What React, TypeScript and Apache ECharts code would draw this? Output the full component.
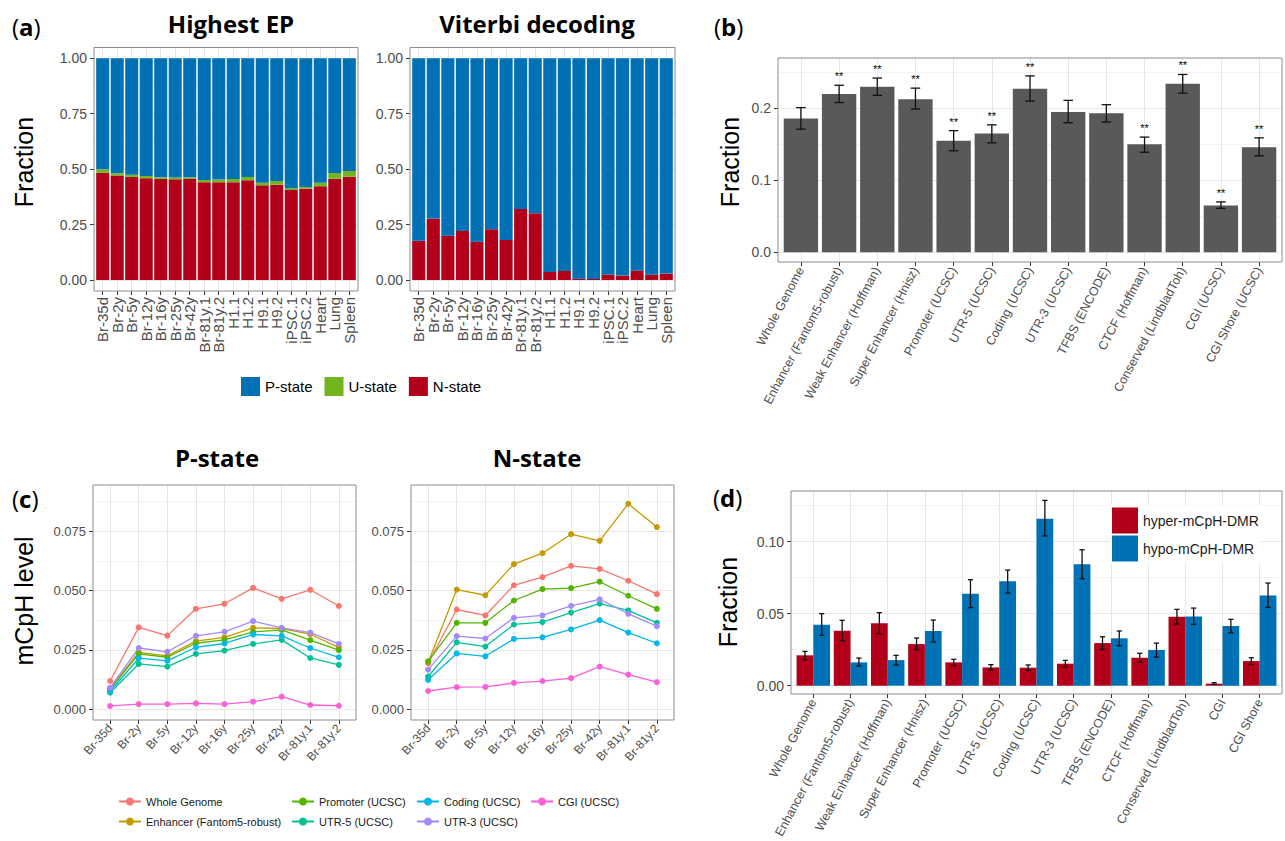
import React, { useEffect, useRef } from "react";
import * as echarts from "echarts";

// ---------------- Panel (a) data ----------------
const samplesA = ["Br-35d", "Br-2y", "Br-5y", "Br-12y", "Br-16y", "Br-25y", "Br-42y", "Br-81y.1", "Br-81y.2", "H1.1", "H1.2", "H9.1", "H9.2", "iPSC.1", "iPSC.2", "Heart", "Lung", "Spleen"];
const epN = [0.484, 0.471, 0.465, 0.459, 0.456, 0.454, 0.456, 0.441, 0.441, 0.441, 0.450, 0.427, 0.430, 0.406, 0.412, 0.423, 0.457, 0.466];
const epU = [0.015, 0.010, 0.010, 0.010, 0.007, 0.008, 0.007, 0.010, 0.012, 0.015, 0.015, 0.012, 0.017, 0.008, 0.008, 0.016, 0.026, 0.026];
const vitN = [0.177, 0.277, 0.200, 0.221, 0.173, 0.229, 0.180, 0.320, 0.301, 0.036, 0.041, 0.006, 0.005, 0.024, 0.020, 0.042, 0.024, 0.029];
const vitU = [0, 0, 0, 0, 0, 0, 0, 0, 0, 0, 0, 0, 0, 0, 0, 0, 0, 0];
const stateNames = ["P-state", "U-state", "N-state"];
const ticksA = ["0.00", "0.25", "0.50", "0.75", "1.00"];

// ---------------- Panel (b) data ----------------
const regionsB = ["Whole Genome", "Enhancer (Fantom5-robust)", "Weak Enhancer (Hoffman)", "Super Enhancer (Hnisz)", "Promoter (UCSC)", "UTR-5 (UCSC)", "Coding (UCSC)", "UTR-3 (UCSC)", "TFBS (ENCODE)", "CTCF (Hoffman)", "Conserved (LindbladToh)", "CGI (UCSC)", "CGI Shore (UCSC)"];
const fracB = [0.186, 0.220, 0.230, 0.2125, 0.155, 0.165, 0.227, 0.195, 0.193, 0.150, 0.234, 0.065, 0.146];
const lowB = [0.171, 0.208, 0.218, 0.199, 0.141, 0.152, 0.210, 0.180, 0.181, 0.139, 0.221, 0.061, 0.134];
const highB = [0.201, 0.232, 0.242, 0.228, 0.169, 0.177, 0.245, 0.211, 0.205, 0.160, 0.247, 0.070, 0.159];
const sigB = ["", "**", "**", "**", "**", "**", "**", "", "", "**", "**", "**", "**"];
const ticksB = ["0.0", "0.1", "0.2"];

// ---------------- Panel (c) data ----------------
const stagesC = ["Br-35d", "Br-2y", "Br-5y", "Br-12y", "Br-16y", "Br-25y", "Br-42y", "Br-81y.1", "Br-81y.2"];
const featuresC = ["Whole Genome", "Enhancer (Fantom5-robust)", "Promoter (UCSC)", "UTR-5 (UCSC)", "Coding (UCSC)", "UTR-3 (UCSC)", "CGI (UCSC)"];
const pWhole = [0.0119, 0.0345, 0.0310, 0.0423, 0.0444, 0.0511, 0.0465, 0.0503, 0.0435];
const pEnh = [0.0087, 0.0240, 0.0225, 0.0287, 0.0303, 0.0343, 0.0340, 0.0316, 0.0261];
const pProm = [0.0084, 0.0233, 0.0219, 0.0278, 0.0292, 0.0326, 0.0334, 0.0291, 0.0249];
const pUtr5 = [0.0070, 0.0191, 0.0180, 0.0233, 0.0247, 0.0275, 0.0292, 0.0216, 0.0187];
const pCod = [0.0076, 0.0215, 0.0204, 0.0261, 0.0277, 0.0315, 0.0309, 0.0258, 0.0219];
const pUtr3 = [0.0091, 0.0258, 0.0242, 0.0309, 0.0326, 0.0371, 0.0343, 0.0323, 0.0275];
const pCgi = [0.0014, 0.0022, 0.0022, 0.0025, 0.0022, 0.0032, 0.0053, 0.0018, 0.0015];
const nWhole = [0.0194, 0.0420, 0.0395, 0.0522, 0.0556, 0.0604, 0.0591, 0.0541, 0.0485];
const nEnh = [0.0197, 0.0504, 0.0480, 0.0611, 0.0657, 0.0737, 0.0709, 0.0865, 0.0767];
const nProm = [0.0202, 0.0364, 0.0364, 0.0458, 0.0506, 0.0510, 0.0537, 0.0478, 0.0423];
const nUtr5 = [0.0138, 0.0282, 0.0264, 0.0357, 0.0367, 0.0407, 0.0445, 0.0416, 0.0364];
const nCod = [0.0124, 0.0235, 0.0223, 0.0296, 0.0303, 0.0336, 0.0375, 0.0323, 0.0278];
const nUtr3 = [0.0167, 0.0308, 0.0298, 0.0385, 0.0395, 0.0435, 0.0463, 0.0402, 0.0350];
const nCgi = [0.0077, 0.0093, 0.0094, 0.0111, 0.0119, 0.0131, 0.0180, 0.0146, 0.0114];
const pStateC = [pWhole, pEnh, pProm, pUtr5, pCod, pUtr3, pCgi];
const nStateC = [nWhole, nEnh, nProm, nUtr5, nCod, nUtr3, nCgi];
const ticksC = ["0.000", "0.025", "0.050", "0.075"];

// ---------------- Panel (d) data ----------------
const regionsD = ["Whole Genome", "Enhancer (Fantom5-robust)", "Weak Enhancer (Hoffman)", "Super Enhancer (Hnisz)", "Promoter (UCSC)", "UTR-5 (UCSC)", "Coding (UCSC)", "UTR-3 (UCSC)", "TFBS (ENCODE)", "CTCF (Hoffman)", "Conserved (LindbladToh)", "CGI", "CGI Shore"];
const dmrNames = ["hyper-mCpH-DMR", "hypo-mCpH-DMR"];
const hyper = [0.0211, 0.0382, 0.0433, 0.0289, 0.0162, 0.0127, 0.0125, 0.0153, 0.0296, 0.0194, 0.0479, 0.0014, 0.0171];
const hyperLo = [0.0180, 0.0313, 0.0361, 0.0250, 0.0139, 0.0109, 0.0106, 0.0130, 0.0252, 0.0164, 0.0428, 0.0009, 0.0148];
const hyperHi = [0.0238, 0.0454, 0.0507, 0.0331, 0.0183, 0.0146, 0.0144, 0.0176, 0.0340, 0.0225, 0.0530, 0.0021, 0.0194];
const hypo = [0.0424, 0.0162, 0.0178, 0.0380, 0.0639, 0.0725, 0.1160, 0.0843, 0.0329, 0.0248, 0.0481, 0.0414, 0.0627];
const hypoLo = [0.0350, 0.0137, 0.0144, 0.0303, 0.0542, 0.0644, 0.1040, 0.0743, 0.0278, 0.0199, 0.0426, 0.0368, 0.0544];
const hypoHi = [0.0500, 0.0192, 0.0211, 0.0456, 0.0736, 0.0803, 0.1287, 0.0944, 0.0380, 0.0296, 0.0539, 0.0461, 0.0713];
const ticksD = ["0.00", "0.05", "0.10"];

// ---------------- styling / layout ----------------
const FONT = "'Liberation Sans', Arial, sans-serif";
const TITLE_FONT = "'Open Sans', 'Liberation Sans', sans-serif";
const TICK_COLOR = "#4D4D4D";
const RED = "#B2001B";
const BLUE = "#0071B4";
const GREEN = "#72B51E";
const GREY_BAR = "#595959";
const FEATURE_COLORS = ["#F8766D", "#C49A00", "#53B400", "#00C094", "#00B6EB", "#A58AFF", "#FB61D7"];

type Layout = { L: number; R: number; T: number; B: number; y0: number; ppu: number };
const layA1: Layout = { L: 94, R: 358, T: 47.5, B: 291, y0: 280, ppu: 221.7 };
const layA2: Layout = { L: 410, R: 675, T: 47.5, B: 291, y0: 280, ppu: 221.7 };
const layB: Layout = { L: 778, R: 1282, T: 58, B: 262, y0: 252.3, ppu: 720 };
const layC1: Layout = { L: 93, R: 356, T: 485, B: 720, y0: 709.3, ppu: 2376 };
const layC2: Layout = { L: 411, R: 674, T: 485, B: 720, y0: 709.3, ppu: 2376 };
const layD: Layout = { L: 791, R: 1282, T: 491, B: 694, y0: 685.7, ppu: 1440 };

function buildOption() {
  const grid: any[] = [];
  const xAxis: any[] = [];
  const yAxis: any[] = [];
  const series: any[] = [];
  const elements: any[] = [];
  const legend: any[] = [];

  const addGrid = (left: number, top: number, width: number, height: number, xa: any, ya: any) => {
    const i = grid.length;
    grid.push({ left, top, width, height, containLabel: false, outerBoundsMode: "none" });
    xAxis.push({ gridIndex: i, ...xa });
    yAxis.push({ gridIndex: i, ...ya });
    return i;
  };

  const panel = (
    lay: Layout,
    cats: string[],
    ticks: string[],
    step: number,
    topMinor: boolean,
    xRot: number,
    xFont: number,
    yFont: number
  ) => {
    const n = cats.length;
    const unit = (lay.R - lay.L) / (n - 1 + 1.2);
    // horizontal grid lines (major + minor) with y tick labels
    const hCats: string[] = [];
    ticks.forEach((t, i) => {
      hCats.push(t);
      if (i < ticks.length - 1 || topMinor) hCats.push("minor" + i);
    });
    const topVal = ((hCats.length - 1) * step) / 2;
    addGrid(
      lay.L,
      lay.y0 - topVal * lay.ppu,
      lay.R - lay.L,
      topVal * lay.ppu,
      { type: "value", show: false, min: 0, max: 1 },
      {
        type: "category",
        boundaryGap: false,
        data: hCats,
        axisLine: { show: false },
        axisTick: { show: true, length: 4, interval: (i: number) => i % 2 === 0, lineStyle: { color: "#333333", width: 1 } },
        axisLabel: {
          interval: (i: number) => i % 2 === 0,
          formatter: (v: string) => (v.indexOf("minor") === 0 ? "" : v),
          color: TICK_COLOR,
          fontSize: yFont,
          fontFamily: FONT,
          margin: 7,
        },
        splitLine: { show: true, interval: 0, lineStyle: { color: ["#E6E6E6", "#F3F3F3"], width: 1 } },
      }
    );
    // vertical grid lines at category centres with x tick labels
    addGrid(
      lay.L + 0.6 * unit,
      lay.T,
      (n - 1) * unit,
      lay.B - lay.T,
      {
        type: "category",
        boundaryGap: false,
        data: cats,
        axisLine: { show: false },
        axisTick: { show: true, length: 4, interval: 0, lineStyle: { color: "#333333", width: 1 } },
        axisLabel: { interval: 0, rotate: xRot, fontSize: xFont, color: TICK_COLOR, fontFamily: FONT, margin: 6 },
        splitLine: { show: true, interval: 0, lineStyle: { color: "#E6E6E6", width: 1 } },
      },
      { type: "value", show: false, min: 0, max: 1 }
    );
    // data grid
    const s = addGrid(
      lay.L + 0.1 * unit,
      lay.T,
      n * unit,
      lay.B - lay.T,
      { type: "category", boundaryGap: true, data: cats, show: false },
      { type: "value", show: false, min: (lay.y0 - lay.B) / lay.ppu, max: (lay.y0 - lay.T) / lay.ppu }
    );
    elements.push({
      type: "rect",
      silent: true,
      z: 100,
      shape: { x: lay.L, y: lay.T, width: lay.R - lay.L, height: lay.B - lay.T },
      style: { fill: "none", stroke: "#8C8C8C", lineWidth: 1 },
    });
    return s;
  };

  const errSeries = (g: number, lo: number[], hi: number[], offset: number, capFrac: number, labels?: string[]) => ({
    type: "custom",
    xAxisIndex: g,
    yAxisIndex: g,
    z: 5,
    silent: true,
    data: lo.map((l, i) => [i, l, hi[i]]),
    encode: { x: 0, y: [1, 2] },
    renderItem: (params: any, api: any) => {
      const i = api.value(0);
      const pLo = api.coord([i, api.value(1)]);
      const pHi = api.coord([i, api.value(2)]);
      const band = api.size([1, 0])[0];
      const x = pLo[0] + offset * band;
      const hw = (capFrac * band) / 2;
      const st = { stroke: "#111111", lineWidth: 1.3 };
      const children: any[] = [
        { type: "line", shape: { x1: x, y1: pLo[1], x2: x, y2: pHi[1] }, style: st },
        { type: "line", shape: { x1: x - hw, y1: pLo[1], x2: x + hw, y2: pLo[1] }, style: st },
        { type: "line", shape: { x1: x - hw, y1: pHi[1], x2: x + hw, y2: pHi[1] }, style: st },
      ];
      const lab = labels ? labels[params.dataIndex] : "";
      if (lab) {
        children.push({
          type: "text",
          x,
          y: pHi[1] - 9,
          style: { text: lab, align: "center", verticalAlign: "middle", fontSize: 11, fontFamily: FONT, fill: "#000000" },
        });
      }
      return { type: "group", children };
    },
  });

  // ----- (a) -----
  const stackedPanel = (lay: Layout, nVals: number[], uVals: number[], stackId: string) => {
    const g = panel(lay, samplesA, ticksA, 0.25, false, 90, 15, 14);
    const pVals = nVals.map((v, i) => +(1 - v - uVals[i]).toFixed(4));
    const common = { type: "bar", xAxisIndex: g, yAxisIndex: g, stack: stackId, barWidth: "90%", silent: true };
    series.push({ ...common, name: "N-state", data: nVals, itemStyle: { color: RED } });
    series.push({ ...common, name: "U-state", data: uVals, itemStyle: { color: GREEN } });
    series.push({ ...common, name: "P-state", data: pVals, itemStyle: { color: BLUE } });
  };
  stackedPanel(layA1, epN, epU, "ep");
  stackedPanel(layA2, vitN, vitU, "vit");

  // ----- (b) -----
  const gB = panel(layB, regionsB, ticksB, 0.1, true, 62, 12.5, 14);
  series.push({ type: "bar", name: "fraction", xAxisIndex: gB, yAxisIndex: gB, data: fracB, barWidth: "90%", silent: true, itemStyle: { color: GREY_BAR } });
  series.push(errSeries(gB, lowB, highB, 0, 0.25, sigB));

  // ----- (c) -----
  const linePanel = (lay: Layout, vals: number[][]) => {
    const g = panel(lay, stagesC, ticksC, 0.025, true, 48, 12, 13);
    featuresC.forEach((name, k) => {
      series.push({
        type: "line",
        name,
        xAxisIndex: g,
        yAxisIndex: g,
        data: vals[k],
        symbol: "circle",
        symbolSize: 6,
        showSymbol: true,
        silent: true,
        z: 3,
        lineStyle: { width: 1.3, color: FEATURE_COLORS[k] },
        itemStyle: { color: FEATURE_COLORS[k] },
      });
    });
  };
  linePanel(layC1, pStateC);
  linePanel(layC2, nStateC);

  // ----- (d) -----
  const gD = panel(layD, regionsD, ticksD, 0.05, true, 62, 12.5, 14);
  series.push({ type: "bar", name: dmrNames[0], xAxisIndex: gD, yAxisIndex: gD, data: hyper, barWidth: "45%", barGap: "0%", silent: true, itemStyle: { color: RED } });
  series.push({ type: "bar", name: dmrNames[1], xAxisIndex: gD, yAxisIndex: gD, data: hypo, barWidth: "45%", barGap: "0%", silent: true, itemStyle: { color: BLUE } });
  series.push(errSeries(gD, hyperLo, hyperHi, -0.225, 0.14));
  series.push(errSeries(gD, hypoLo, hypoHi, 0.225, 0.14));

  // ----- legends -----
  legend.push({
    data: stateNames,
    left: 241,
    top: 377,
    icon: "rect",
    itemWidth: 19,
    itemHeight: 19,
    itemGap: 12,
    padding: 0,
    selectedMode: false,
    textStyle: { fontSize: 15, fontFamily: FONT, color: "#000000" },
  });
  const colLefts = [118, 291, 416, 530];
  const cols = [[0, 1], [2, 3], [4, 5], [6]];
  cols.forEach((c, j) => {
    legend.push({
      data: c.map((k) => featuresC[k]),
      orient: "vertical",
      left: colLefts[j],
      top: 796,
      itemWidth: 22,
      itemHeight: 10,
      itemGap: 9,
      padding: 0,
      selectedMode: false,
      textStyle: { fontSize: 11, fontFamily: FONT, color: "#1A1A1A" },
    });
  });
  legend.push({
    data: dmrNames,
    orient: "vertical",
    left: 1110,
    top: 505.5,
    icon: "rect",
    itemWidth: 26,
    itemHeight: 26,
    itemGap: 2,
    padding: 2,
    backgroundColor: "#FFFFFF",
    selectedMode: false,
    textStyle: { fontSize: 14, fontFamily: FONT, color: "#1A1A1A" },
  });

  // ----- texts -----
  const title = (x: number, y: number, text: string) => ({
    type: "text",
    x,
    y,
    silent: true,
    style: { text, align: "center", verticalAlign: "middle", fontSize: 24, fontWeight: "bold", fontFamily: TITLE_FONT, fill: "#000000" },
  });
  const tag = (x: number, y: number, letter: string) => ({
    type: "text",
    x,
    y,
    silent: true,
    style: {
      text: "{n|(}{b|" + letter + "}{n|)}",
      align: "left",
      verticalAlign: "middle",
      rich: {
        n: { fontSize: 24, fontFamily: TITLE_FONT, fill: "#000000" },
        b: { fontSize: 24, fontFamily: TITLE_FONT, fontWeight: "bold", fill: "#000000" },
      },
    },
  });
  const yTitle = (x: number, y: number, text: string) => ({
    type: "text",
    x,
    y,
    rotation: Math.PI / 2,
    silent: true,
    style: { text, align: "center", verticalAlign: "middle", fontSize: 25, fontFamily: FONT, fill: "#000000" },
  });
  elements.push(title(231, 23, "Highest EP"));
  elements.push(title(537, 23, "Viterbi decoding"));
  elements.push(title(217, 457, "P-state"));
  elements.push(title(537, 457, "N-state"));
  elements.push(tag(12, 26, "a"));
  elements.push(tag(714, 26, "b"));
  elements.push(tag(12, 498, "c"));
  elements.push(tag(713, 497, "d"));
  elements.push(yTitle(24, 162, "Fraction"));
  elements.push(yTitle(730, 162, "Fraction"));
  elements.push(yTitle(24, 601, "mCpH level"));
  elements.push(yTitle(728, 602, "Fraction"));

  return {
    animation: false,
    backgroundColor: "#FFFFFF",
    grid,
    xAxis,
    yAxis,
    series,
    legend,
    graphic: { elements },
  };
}

export default function App() {
  const ref = useRef<HTMLDivElement>(null);
  useEffect(() => {
    if (!ref.current) return;
    const chart = echarts.init(ref.current, undefined, { renderer: "svg" });
    chart.setOption(buildOption() as any);
    return () => chart.dispose();
  }, []);
  return <div ref={ref} style={{ position: "absolute", left: 0, top: 0, width: 1285, height: 841 }} />;
}
